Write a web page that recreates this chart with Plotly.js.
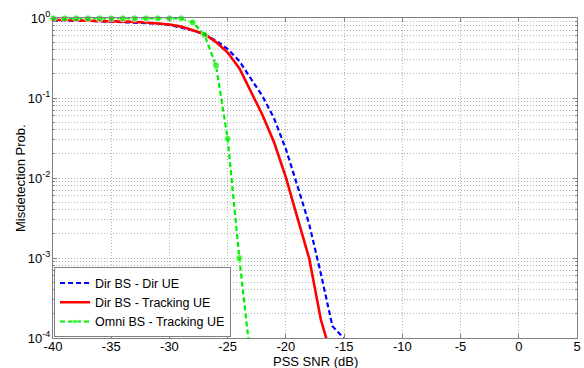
<!DOCTYPE html>
<html>
<head>
<meta charset="utf-8">
<script src="https://cdn.plot.ly/plotly-3.0.1.min.js"></script>
<style>html,body{margin:0;padding:0;background:#fff;}#chart{width:584px;height:368px;}</style>
</head>
<body>
<div id="chart"></div>
<script>
// PSS SNR (dB)
const snrDb = [-40,-39,-38,-37,-36,-35,-34,-33,-32,-31,-30,-29,-28,-27,-26,-25,-24,-23,-22,-21,-20,-19,-18,-17,-16,-15];
// Dir BS - Dir UE
const dirBsDirUe = [0.93,0.93,0.925,0.92,0.91,0.90,0.89,0.88,0.87,0.85,0.82,0.76,0.70,0.62,0.52,0.41,0.29,0.174,0.105,0.055,0.023,0.0079,0.00265,0.00064,0.00014,0.0000985];
// Dir BS - Tracking UE
const dirBsTrackUe = [0.95,0.945,0.94,0.93,0.925,0.915,0.905,0.895,0.88,0.86,0.83,0.78,0.70,0.63,0.50,0.37,0.236,0.12,0.061,0.0276,0.0102,0.00316,0.00099,0.00017,0.000054,null];
// Omni BS - Tracking UE
const omniBsTrackUe = [0.99,0.99,0.99,0.99,0.99,0.99,0.99,0.99,0.99,0.99,0.99,0.99,0.88,0.62,0.255,0.031,0.001,0.00005,null,null,null,null,null,null,null,null];

const seriesNames = ['Dir BS - Dir UE','Dir BS - Tracking UE','Omni BS - Tracking UE'];
const xTicks = [-40,-35,-30,-25,-20,-15,-10,-5,0,5];
const yTicks = [1,0.1,0.01,0.001,0.0001];
const yTickText = ['10<sup>0</sup>','10<sup>-1</sup>','10<sup>-2</sup>','10<sup>-3</sup>','10<sup>-4</sup>'];
const xTitle = 'PSS SNR (dB)';
const yTitle = 'Misdetection Prob.';

const font = {family:'Liberation Sans, Arial, sans-serif', size:13, color:'#000'};
const gridCol = '#b4b4b4';
const gridDash = '1px,2px';
const axisCol = '#808080';

const traces = [
  {x:snrDb, y:dirBsDirUe, name:seriesNames[0], mode:'lines',
   line:{color:'#0000ff', width:2.2, dash:'5px,3px'}},
  {x:snrDb, y:dirBsTrackUe, name:seriesNames[1], mode:'lines',
   line:{color:'#ff0000', width:2.6}},
  {x:snrDb, y:omniBsTrackUe, name:seriesNames[2], mode:'lines+markers', cliponaxis:false,
   line:{color:'#00ee00', width:2.2, dash:'5px,3px'},
   marker:{color:'#00ee00', size:omniBsTrackUe.map(v => (v !== null && v >= 1e-4) ? 7 : 0)}}
];

const layout = {
  width:584, height:368,
  margin:{l:53, r:7, t:18, b:30},
  paper_bgcolor:'#fff', plot_bgcolor:'#fff',
  font:font,
  showlegend:true,
  legend:{x:0.002, y:0.002, xanchor:'left', yanchor:'bottom', bgcolor:'#fff',
          bordercolor:'#808080', borderwidth:1, font:{family:font.family, size:12.5, color:'#000'},
          itemwidth:30, tracegroupgap:0},
  xaxis:{range:[-40,5], tickvals:xTicks, ticktext:xTicks.map(String),
         showline:true, linecolor:axisCol, linewidth:1, mirror:'ticks',
         ticks:'inside', ticklen:4, tickcolor:axisCol, ticklabelstandoff:-4,
         showgrid:true, gridcolor:gridCol, griddash:gridDash, gridwidth:1,
         zeroline:false, tickfont:font},
  yaxis:{type:'log', range:[-4,0], tickvals:yTicks, ticktext:yTickText,
         showline:true, linecolor:axisCol, linewidth:1, mirror:'ticks',
         ticks:'inside', ticklen:4, tickcolor:axisCol, ticklabelstandoff:-1,
         showgrid:true, gridcolor:gridCol, griddash:gridDash, gridwidth:1,
         minor:{dtick:'D1', showgrid:true, gridcolor:gridCol, griddash:gridDash, gridwidth:1,
                ticks:'inside', ticklen:2, tickcolor:axisCol},
         zeroline:false, tickfont:font},
  annotations:[
    {text:xTitle, xref:'paper', yref:'paper', x:0.5, y:0, yshift:-23, xanchor:'center', yanchor:'middle',
     showarrow:false, font:font},
    {text:yTitle, xref:'paper', yref:'paper', x:0, y:0.5, xshift:-33, xanchor:'center', yanchor:'middle',
     textangle:-90, showarrow:false, font:font}
  ]
};

Plotly.newPlot('chart', traces, layout, {displayModeBar:false, staticPlot:true});
</script>
</body>
</html>
